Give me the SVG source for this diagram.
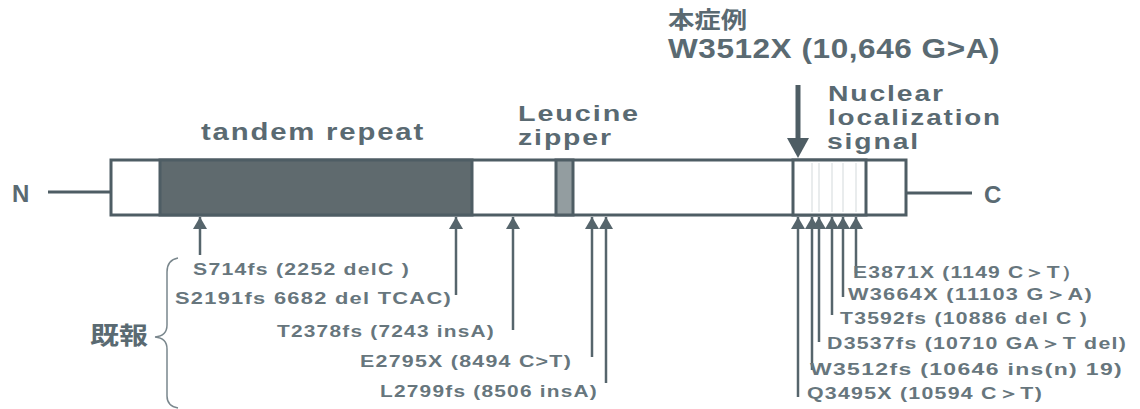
<svg xmlns="http://www.w3.org/2000/svg" width="1140" height="409" viewBox="0 0 1140 409">
  <defs>
    <style>
      .lbl { font-family: "Liberation Sans", Arial, sans-serif; fill: #5a6a72; }
      .big { font-size: 24px; font-weight: bold; letter-spacing: 1.5px; }
      .stk { font-size: 22.5px; }
      .mut { font-size: 17px; font-weight: bold; fill: #67767d; letter-spacing: 1px; }
      .cjk { font-family: "Liberation Sans", "Noto Sans CJK JP", sans-serif; fill: #5a6a72; font-weight: bold; }
      .bar { stroke: #4e5d64; stroke-width: 3; }
      .conn { stroke: #56656c; stroke-width: 2.5; fill: none; }
      .faint { stroke: #e2e6e7; stroke-width: 1.5; }
    </style>
    <marker id="up" markerUnits="userSpaceOnUse" markerWidth="14" markerHeight="13" refX="7" refY="0" orient="0" viewBox="0 0 14 13">
      <polygon points="0,12 14,12 7,0" fill="#56656c"/>
    </marker>
  </defs>

  <rect width="1140" height="409" fill="#ffffff"/>

  <!-- termini -->
  <g id="n-terminus">
    <text class="lbl" x="12" y="202" font-size="24" font-weight="bold">N</text>
    <line x1="48" y1="192" x2="111" y2="192" class="bar" stroke-width="2.5"/>
  </g>
  <g id="c-terminus">
    <line x1="906" y1="193" x2="972" y2="193" class="bar" stroke-width="2.5"/>
    <text class="lbl" x="984" y="203" font-size="24" font-weight="bold">C</text>
  </g>

  <!-- protein bar -->
  <g id="protein-bar">
    <rect x="111" y="160" width="795" height="55" fill="#ffffff" class="bar"/>
    <rect x="160" y="160" width="312" height="55" fill="#5f6a6e" class="bar"/>
    <rect x="556" y="160" width="17" height="55" fill="#939da0" class="bar"/>
    <rect x="793" y="160" width="73" height="55" fill="#ffffff" class="bar"/>
    <g class="faint">
      <line x1="812" y1="163" x2="812" y2="212"/>
      <line x1="819" y1="163" x2="819" y2="212"/>
      <line x1="832" y1="163" x2="832" y2="212"/>
      <line x1="843" y1="163" x2="843" y2="212"/>
      <line x1="856" y1="163" x2="856" y2="212"/>
    </g>
  </g>

  <!-- domain labels -->
  <g id="tandem-repeat">
    <text class="lbl big" x="201" y="140" textLength="224" lengthAdjust="spacingAndGlyphs">tandem repeat</text>
  </g>
  <g id="leucine-zipper">
    <text class="lbl big stk" x="518" y="121" textLength="122" lengthAdjust="spacingAndGlyphs">Leucine</text>
    <text class="lbl big stk" x="518" y="145" textLength="95" lengthAdjust="spacingAndGlyphs">zipper</text>
  </g>
  <g id="nls">
    <text class="lbl big stk" x="828" y="101" textLength="117" lengthAdjust="spacingAndGlyphs">Nuclear</text>
    <text class="lbl big stk" x="828" y="125" textLength="174" lengthAdjust="spacingAndGlyphs">localization</text>
    <text class="lbl big stk" x="827" y="149" textLength="93" lengthAdjust="spacingAndGlyphs">signal</text>
  </g>

  <!-- this case -->
  <g id="this-case">
    <text class="cjk" x="668" y="28" font-size="23" textLength="79" lengthAdjust="spacingAndGlyphs">本症例</text>
    <text class="lbl" x="668" y="58" font-size="28" font-weight="bold" letter-spacing="0.5" textLength="332" lengthAdjust="spacingAndGlyphs">W3512X (10,646 G&gt;A)</text>
  </g>

  <!-- connectors -->
  <g id="connectors">
    <line x1="798" y1="85" x2="798" y2="140" stroke="#4e5d64" stroke-width="5"/>
    <polygon points="787,138 809,138 798,158" fill="#4e5d64"/>

    <line class="conn" x1="200" y1="255" x2="200" y2="217" marker-end="url(#up)"/>
    <line class="conn" x1="456" y1="295" x2="456" y2="217" marker-end="url(#up)"/>
    <line class="conn" x1="513" y1="330" x2="513" y2="217" marker-end="url(#up)"/>
    <line class="conn" x1="592" y1="357" x2="592" y2="217" marker-end="url(#up)"/>
    <line class="conn" x1="606" y1="383" x2="606" y2="217" marker-end="url(#up)"/>

    <line class="conn" x1="798" y1="397" x2="798" y2="217" marker-end="url(#up)"/>
    <line class="conn" x1="812" y1="370" x2="812" y2="217" marker-end="url(#up)"/>
    <line class="conn" x1="819" y1="342" x2="819" y2="217" marker-end="url(#up)"/>
    <line class="conn" x1="832" y1="315" x2="832" y2="217" marker-end="url(#up)"/>
    <line class="conn" x1="843" y1="297" x2="843" y2="217" marker-end="url(#up)"/>
    <line class="conn" x1="856" y1="273" x2="856" y2="217" marker-end="url(#up)"/>

    <path d="M178,258 Q167,260 167,272 L167,325 Q167,336 155,337 Q167,338 167,349 L167,396 Q167,406 178,408" stroke="#7a878d" stroke-width="1.5" fill="none"/>
  </g>

  <!-- reported mutations -->
  <g id="reported">
    <text class="cjk" x="90" y="344" font-size="24" textLength="58" lengthAdjust="spacingAndGlyphs">既報</text>
  </g>
  <g id="left-mutations">
    <text class="lbl mut" x="193" y="275" textLength="217" lengthAdjust="spacingAndGlyphs">S714fs (2252 delC )</text>
    <text class="lbl mut" x="175" y="304" textLength="277" lengthAdjust="spacingAndGlyphs">S2191fs  6682 del TCAC)</text>
    <text class="lbl mut" x="277" y="337" textLength="218" lengthAdjust="spacingAndGlyphs">T2378fs (7243 insA)</text>
    <text class="lbl mut" x="360" y="367" textLength="212" lengthAdjust="spacingAndGlyphs">E2795X (8494 C&gt;T)</text>
    <text class="lbl mut" x="380" y="397" textLength="218" lengthAdjust="spacingAndGlyphs">L2799fs (8506 insA)</text>
  </g>
  <g id="right-mutations">
    <text class="lbl mut" x="853" y="278" textLength="230" lengthAdjust="spacingAndGlyphs">E3871X  (1149 C＞T）</text>
    <text class="lbl mut" x="848" y="300" textLength="245" lengthAdjust="spacingAndGlyphs">W3664X (11103 G＞A)</text>
    <text class="lbl mut" x="840" y="324" textLength="248" lengthAdjust="spacingAndGlyphs">T3592fs (10886 del C )</text>
    <text class="lbl mut" x="827" y="349" textLength="300" lengthAdjust="spacingAndGlyphs">D3537fs (10710 GA＞T del)</text>
    <text class="lbl mut" x="810" y="375" textLength="313" lengthAdjust="spacingAndGlyphs">W3512fs (10646 ins(n) 19)</text>
    <text class="lbl mut" x="807" y="399" textLength="236" lengthAdjust="spacingAndGlyphs">Q3495X (10594 C＞T)</text>
  </g>
</svg>
